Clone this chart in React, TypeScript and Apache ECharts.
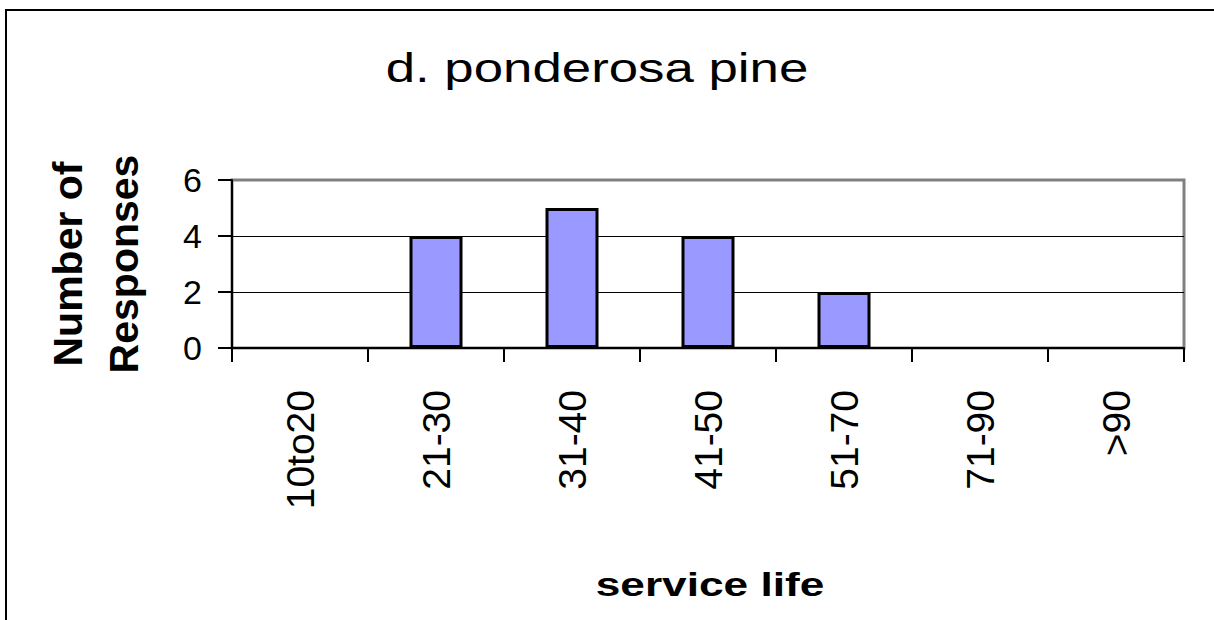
import React, { useEffect, useRef } from "react";
import * as echarts from "echarts";

const categories = ["10to20", "21-30", "31-40", "41-50", "51-70", "71-90", ">90"];
const responses = [0, 4, 5, 4, 2, 0, 0];
const yTicks = { min: 0, max: 6, interval: 2 };
const titleText = "d. ponderosa pine";
const xName = "service life";
const yName = "Number of\nResponses";

const FONT = "'Liberation Sans', Arial, sans-serif";

export default function App() {
  const ref = useRef<HTMLDivElement>(null);
  useEffect(() => {
    document.body.style.margin = "0";
    const chart = echarts.init(ref.current!, null, { renderer: "svg" });
    chart.setOption({
      animation: false,
      backgroundColor: "#ffffff",
      textStyle: { fontFamily: FONT },
      grid: {
        left: 232,
        top: 180,
        right: 30,
        bottom: 272,
        show: true,
        borderColor: "#808080",
        borderWidth: 3,
        backgroundColor: "transparent",
      },
      xAxis: {
        type: "category",
        data: categories,
        boundaryGap: true,
        axisLine: { show: true, lineStyle: { color: "#000", width: 2 } },
        axisTick: { show: true, length: 14, alignWithLabel: false, lineStyle: { color: "#000", width: 2 } },
        axisLabel: {
          rotate: 90,
          margin: 42,
          fontSize: 39,
          color: "#000",
          fontFamily: FONT,
          interval: 0,
        },
        splitLine: { show: false },
      },
      yAxis: {
        type: "value",
        min: yTicks.min,
        max: yTicks.max,
        interval: yTicks.interval,
        name: yName,
        nameLocation: "middle",
        nameGap: 80,
        nameTextStyle: {
          fontSize: 41,
          fontWeight: "bold",
          color: "#000",
          fontFamily: FONT,
          lineHeight: 56,
        },
        axisLine: { show: true, lineStyle: { color: "#000", width: 2 } },
        axisTick: { show: true, length: 14, lineStyle: { color: "#000", width: 2 } },
        axisLabel: { fontSize: 34, color: "#000", margin: 30, fontFamily: FONT },
        splitLine: {
          show: true,
          showMaxLine: false,
          showMinLine: false,
          lineStyle: { color: "#000", width: 1 },
        },
      },
      series: [
        {
          type: "bar",
          barWidth: 53,
          data: responses.map((v) => ({
            value: v,
            itemStyle: v === 0 ? { borderWidth: 0 } : undefined,
          })),
          itemStyle: { color: "#9999FF", borderColor: "#000", borderWidth: 3 },
        },
      ],
      graphic: [
        {
          type: "rect",
          shape: { x: 6, y: 10, width: 1400, height: 800 },
          style: { fill: "none", stroke: "#000", lineWidth: 2 },
          silent: true,
        },
        {
          type: "text",
          x: 597,
          y: 68,
          scaleX: 1.32,
          style: {
            text: titleText,
            align: "center",
            verticalAlign: "middle",
            fontSize: 40,
            fontFamily: FONT,
            fill: "#000",
          },
        },
        {
          type: "text",
          x: 710,
          y: 584,
          scaleX: 1.3,
          style: {
            text: xName,
            align: "center",
            verticalAlign: "middle",
            fontSize: 34,
            fontWeight: "bold",
            fontFamily: FONT,
            fill: "#000",
          },
        },
      ],
    });
    return () => chart.dispose();
  }, []);
  return <div ref={ref} style={{ width: 1214, height: 620 }} />;
}
